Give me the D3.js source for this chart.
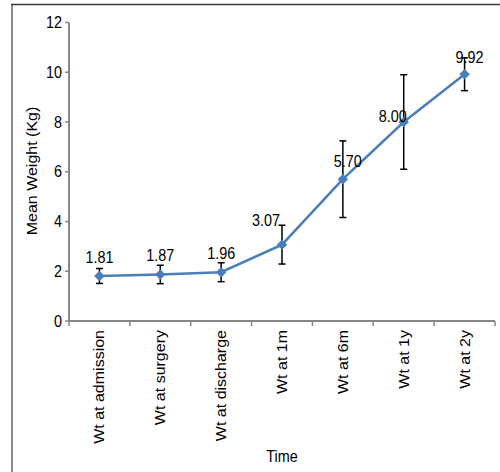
<!DOCTYPE html>
<html>
<head>
<meta charset="utf-8">
<script src="https://cdn.jsdelivr.net/npm/d3@7"></script>
<style>
  body { margin: 0; background: #fff; }
  text { font-family: Arial, "Liberation Sans", sans-serif; fill: #000; }
</style>
</head>
<body>
<div id="chart"></div>
<script>
// chart values
var categories = ['Wt at admission', 'Wt at surgery', 'Wt at discharge', 'Wt at 1m', 'Wt at 6m', 'Wt at 1y', 'Wt at 2y'];
var meanWeight = [1.81, 1.87, 1.96, 3.07, 5.70, 8.00, 9.92];
var errorSize = [0.30, 0.37, 0.38, 0.78, 1.54, 1.90, 0.66];
var yTicks = [0, 2, 4, 6, 8, 10, 12];

var width = 500, height = 472;
var margin = {left: 69, right: 5, top: 22.5, bottom: 151};
var lineColor = '#4a7ebb';
var axisColor = '#878787';
var fontSize = 16;
var squeeze = 0.9; // the source picture is a little narrow, text too

// label nudges, the source places a few labels by hand
var labelNudge = [[0, -13], [0, -13], [0, -13], [-16, -19], [5, -12], [-11, 0], [5, -11]];

var svg = d3.select('#chart').append('svg')
    .attr('width', width)
    .attr('height', height);

// outer frame (left and top edges only show)
svg.append('line')
    .attr('x1', 12).attr('y1', 4).attr('x2', 12).attr('y2', height)
    .attr('stroke', '#8c8c8c').attr('stroke-width', 2);
svg.append('line')
    .attr('x1', 11).attr('y1', 4.5).attr('x2', width).attr('y2', 4.5)
    .attr('stroke', '#3a3a3a').attr('stroke-width', 1.5);

var x = d3.scaleBand()
    .domain(categories)
    .range([margin.left, width - margin.right]);

var y = d3.scaleLinear()
    .domain([0, 12])
    .range([height - margin.bottom, margin.top]);

var plotBottom = height - margin.bottom;

// horizontal text helper
function hText(g, tx, ty, str, anchor) {
    return g.append('text')
        .attr('transform', 'translate(' + tx + ',' + ty + ') scale(' + squeeze + ',1)')
        .attr('text-anchor', anchor)
        .style('font-size', fontSize + 'px')
        .text(str);
}

// y axis
var yAxis = svg.append('g');
yAxis.append('line')
    .attr('x1', margin.left).attr('x2', margin.left)
    .attr('y1', y(12)).attr('y2', plotBottom)
    .attr('stroke', axisColor).attr('stroke-width', 2);
yTicks.forEach(function (t) {
    yAxis.append('line')
        .attr('x1', margin.left - 4).attr('x2', margin.left)
        .attr('y1', y(t)).attr('y2', y(t))
        .attr('stroke', axisColor).attr('stroke-width', 1.5);
    hText(yAxis, margin.left - 7, y(t) + 5.5, t, 'end');
});

// x axis, ticks sit on the band edges
var xEdges = categories.map(function (c) { return x(c); }).concat([x.range()[1]]);
var xAxis = svg.append('g');
xAxis.append('line')
    .attr('x1', margin.left).attr('x2', x.range()[1])
    .attr('y1', plotBottom).attr('y2', plotBottom)
    .attr('stroke', axisColor).attr('stroke-width', 2);
xAxis.selectAll('.xtick')
    .data(xEdges)
    .enter().append('line')
    .attr('x1', function (d) { return d; })
    .attr('x2', function (d) { return d; })
    .attr('y1', plotBottom)
    .attr('y2', plotBottom + 5)
    .attr('stroke', axisColor).attr('stroke-width', 1.5);

xAxis.selectAll('.xlabel')
    .data(categories)
    .enter().append('text')
    .attr('transform', function (d) {
        return 'translate(' + (x(d) + x.bandwidth() / 2 + 5) + ',' + (plotBottom + 9) + ') rotate(-90) scale(1,' + squeeze + ')';
    })
    .attr('text-anchor', 'end')
    .style('font-size', fontSize + 'px')
    .text(function (d) { return d; });

// axis titles
svg.append('text')
    .attr('transform', 'translate(37,171) rotate(-90) scale(1,' + squeeze + ')')
    .attr('text-anchor', 'middle')
    .style('font-size', fontSize + 'px')
    .text('Mean Weight (Kg)');

hText(svg, 282, 462, 'Time', 'middle');

var cx = function (i) { return x(categories[i]) + x.bandwidth() / 2; };

// error bars
var errG = svg.append('g');
meanWeight.forEach(function (v, i) {
    var top = y(v + errorSize[i]);
    var bot = y(v - errorSize[i]);
    var px = cx(i);
    errG.append('line')
        .attr('x1', px).attr('x2', px).attr('y1', top).attr('y2', bot)
        .attr('stroke', '#000').attr('stroke-width', 1.5);
    [top, bot].forEach(function (yy) {
        errG.append('line')
            .attr('x1', px - 3.5).attr('x2', px + 3.5).attr('y1', yy).attr('y2', yy)
            .attr('stroke', '#000').attr('stroke-width', 1.5);
    });
});

// mean line
var line = d3.line()
    .x(function (d, i) { return cx(i); })
    .y(function (d) { return y(d); });

svg.append('path')
    .datum(meanWeight)
    .attr('d', line)
    .attr('fill', 'none')
    .attr('stroke', lineColor)
    .attr('stroke-width', 2.5);

// diamond markers
svg.selectAll('.marker')
    .data(meanWeight)
    .enter().append('path')
    .attr('d', d3.symbol().type(d3.symbolDiamond2).size(70))
    .attr('transform', function (d, i) { return 'translate(' + cx(i) + ',' + y(d) + ')'; })
    .attr('fill', lineColor);

// data labels
var labelG = svg.append('g');
meanWeight.forEach(function (v, i) {
    hText(labelG, cx(i) + labelNudge[i][0], y(v) + labelNudge[i][1], v.toFixed(2), 'middle');
});
</script>
</body>
</html>
